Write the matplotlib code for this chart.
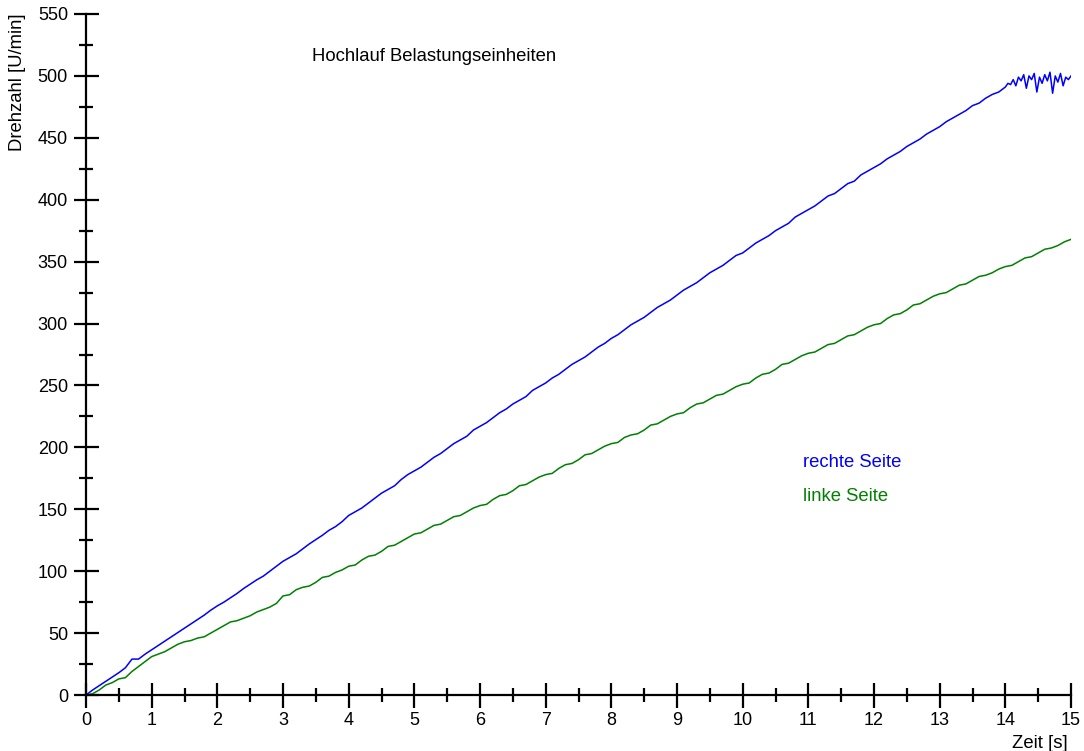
import numpy as np
import matplotlib
matplotlib.use("Agg")
import matplotlib.pyplot as plt
from matplotlib.ticker import MultipleLocator

plt.rcParams['font.family'] = ['Liberation Sans', 'DejaVu Sans']

# rechte Seite (blau), Abtastung 0.1 s bis 14.0 s, danach 0.04 s
rechts_main = [0, 4, 7.5, 11, 14.5, 18, 22, 29, 29, 33,
               36.5, 40, 43.5, 47, 50.5, 54, 57.5, 61, 64.5, 68.5,
               72, 75, 78.5, 82, 86, 89.5, 93, 96, 100, 104,
               108, 111, 114, 118, 122, 125.5, 129, 133, 136, 140,
               145, 148, 151, 155, 159, 163, 166, 169, 174, 178,
               181, 184, 188, 192, 195, 199, 203, 206, 209, 214,
               217, 220, 224, 228, 231, 235, 238, 241, 246, 249,
               252, 256, 259, 263, 267, 270, 273, 277, 281, 284,
               288, 291, 295, 299, 302, 305, 309, 313, 316, 319,
               323, 327, 330, 333, 337, 341, 344, 347, 351, 355,
               357, 361, 365, 368, 371, 375, 378, 381, 386, 389,
               392, 395, 399, 403, 405, 409, 413, 415, 420, 423,
               426, 429, 433, 436, 439, 443, 446, 449, 453, 456,
               459, 463, 466, 469, 472, 476, 478, 482, 485, 487]
rechts_tail = [491, 494, 493, 497, 492, 499, 496, 501, 490, 500,
               497, 502, 487, 499, 494, 501, 496, 503, 486, 500,
               495, 502, 492, 499, 497, 500]

# linke Seite (grün), Abtastung 0.1 s
links = [0, 1, 4, 8, 10, 13, 14, 19, 23, 27,
         31, 33, 35, 38, 41, 43, 44, 46, 47, 50,
         53, 56, 59, 60, 62, 64, 67, 69, 71, 74,
         80, 81, 85, 87, 88, 91, 95, 96, 99, 101,
         104, 105, 109, 112, 113, 116, 120, 121, 124, 127,
         130, 131, 134, 137, 138, 141, 144, 145, 148, 151,
         153, 154, 158, 161, 162, 165, 169, 170, 173, 176,
         178, 179, 183, 186, 187, 190, 194, 195, 198, 201,
         203, 204, 208, 210, 211, 214, 218, 219, 222, 225,
         227, 228, 232, 235, 236, 239, 242, 243, 246, 249,
         251, 252, 256, 259, 260, 263, 267, 268, 271, 274,
         276, 277, 280, 283, 284, 287, 290, 291, 294, 297,
         299, 300, 304, 307, 308, 311, 315, 316, 319, 322,
         324, 325, 328, 331, 332, 335, 338, 339, 341, 344,
         346, 347, 350, 353, 354, 357, 360, 361, 363, 366, 368]

t_rechts = np.concatenate([np.arange(len(rechts_main)) * 0.1,
                           14.0 + np.arange(len(rechts_tail)) * 0.04])
y_rechts = np.array(rechts_main + rechts_tail)
t_links = np.arange(len(links)) * 0.1

fig = plt.figure(figsize=(10.84, 7.51), dpi=100)
ax = fig.add_axes([86/1084, 1-695/751, (1071-86)/1084, (695-14)/751])

ax.plot(t_rechts, y_rechts, color='#0000ff', lw=1.1)
ax.plot(t_links, links, color='#008000', lw=1.1)

ax.set_xlim(0, 15)
ax.set_ylim(0, 550)
ax.spines['top'].set_visible(False)
ax.spines['right'].set_visible(False)
ax.spines['left'].set_linewidth(1.6)
ax.spines['bottom'].set_linewidth(1.6)
ax.xaxis.set_major_locator(MultipleLocator(1))
ax.xaxis.set_minor_locator(MultipleLocator(0.5))
ax.yaxis.set_major_locator(MultipleLocator(50))
ax.yaxis.set_minor_locator(MultipleLocator(25))
ax.tick_params(which='major', direction='inout', length=18, width=1.6, labelsize=13)
ax.tick_params(which='minor', direction='inout', length=10, width=1.6)
ax.tick_params(axis='y', pad=4)
ax.tick_params(axis='x', pad=3)

fs = 13.3
ax.text(3.44, 516, 'Hochlauf Belastungseinheiten', fontsize=fs, va='center')
ax.text(10.92, 187.5, 'rechte Seite', fontsize=fs, color='#0000ff', va='center')
ax.text(10.92, 160.5, 'linke Seite', fontsize=fs, color='#008000', va='center')
fig.text(1068/1084, 1-743/751, 'Zeit [s]', fontsize=fs, ha='right', va='center')
fig.text(18/1084, 1-82/751, 'Drehzahl [U/min]', fontsize=fs, rotation=90,
         ha='center', va='center')

fig.savefig('out.png', dpi=100)
